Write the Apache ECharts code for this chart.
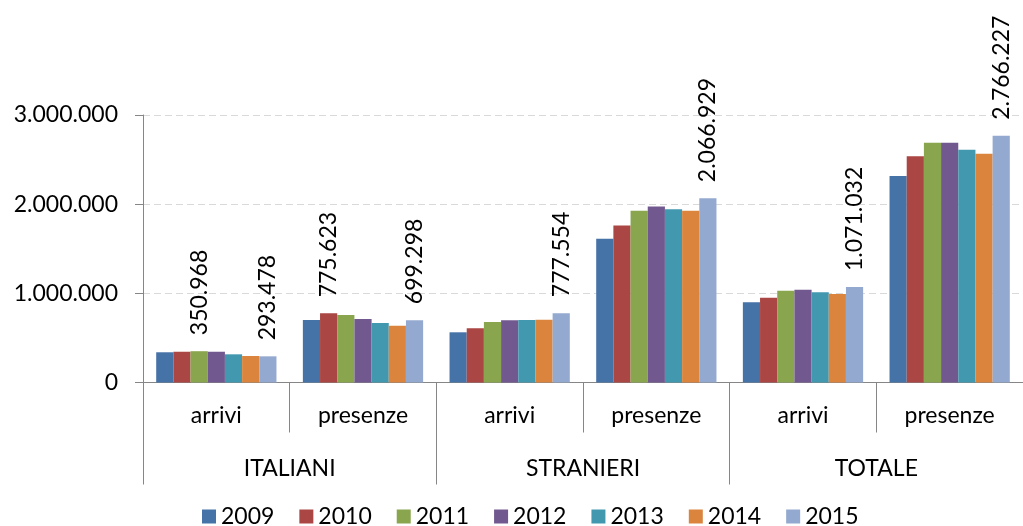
<!DOCTYPE html>
<html>
<head>
<meta charset="utf-8">
<script src="https://cdn.jsdelivr.net/npm/echarts@6/dist/echarts.min.js"></script>
<style>
  html, body { margin: 0; padding: 0; background: #fff; }
  #chart { width: 1023px; height: 526px; }
</style>
</head>
<body>
<div id="chart"></div>
<script>
// categorie dell'asse x (due livelli)
const sottoCategorie = ['arrivi', 'presenze', 'arrivi', 'presenze', 'arrivi', 'presenze'];
const gruppi = ['ITALIANI', 'STRANIERI', 'TOTALE'];
const anni = ['2009', '2010', '2011', '2012', '2013', '2014', '2015'];

// valori per anno, nello stesso ordine di sottoCategorie
const v2009 = [339000, 700000, 563000, 1612000, 899000, 2315000];
const v2010 = [345000, 775623, 608000, 1762000, 951000, 2536000];
const v2011 = [350968, 757000, 678000, 1926000, 1029000, 2688000];
const v2012 = [345000, 712000, 697000, 1975000, 1040000, 2688000];
const v2013 = [316000, 667000, 700000, 1942000, 1011000, 2610000];
const v2014 = [297000, 637000, 704000, 1926000, 992000, 2565000];
const v2015 = [293478, 699298, 777554, 2066929, 1071032, 2766227];
const valori = [v2009, v2010, v2011, v2012, v2013, v2014, v2015];

// etichette visibili: [indice anno, indice categoria]
const etichette = [[2, 0], [1, 1], [6, 0], [6, 1], [6, 2], [6, 3], [6, 4], [6, 5]];

// tick asse y
const yTicks = [0, 1000000, 2000000, 3000000];

const colori = ['#4572A7', '#AA4643', '#89A54E', '#71588F', '#4198AF', '#DB843D', '#93A9CF'];
const font = 'Lato, "Open Sans", sans-serif';

function formatta(v) {
  return String(v).replace(/\B(?=(\d{3})+(?!\d))/g, '.');
}

const chart = echarts.init(document.getElementById('chart'));

const series = anni.map((anno, s) => ({
  name: anno,
  type: 'bar',
  barGap: '0%',
  barCategoryGap: '18%',
  itemStyle: { color: colori[s] },
  data: valori[s].map((v, c) => {
    const conLabel = etichette.some(e => e[0] === s && e[1] === c);
    return {
      value: v,
      label: {
        show: conLabel,
        position: 'top',
        distance: 16,
        rotate: 90,
        align: 'left',
        verticalAlign: 'middle',
        fontFamily: font,
        fontSize: 23,
        color: '#000',
        formatter: p => formatta(p.value)
      }
    };
  })
}));

const option = {
  animation: false,
  color: colori,
  grid: { left: 143, top: 115, width: 884, height: 267.5 },
  legend: {
    data: anni,
    left: 197,
    top: 500,
    icon: 'rect',
    itemWidth: 14,
    itemHeight: 14,
    itemGap: 25,
    textStyle: { fontFamily: font, fontSize: 23, color: '#000' }
  },
  xAxis: [
    {
      type: 'category',
      data: sottoCategorie,
      axisLine: { show: true, lineStyle: { color: '#868686', width: 1 } },
      axisTick: { show: true, interval: 0, length: 50, lineStyle: { color: '#868686' } },
      axisLabel: { interval: 0, margin: 22, fontFamily: font, fontSize: 23, color: '#000' },
      splitLine: { show: false }
    },
    {
      type: 'category',
      data: gruppi,
      position: 'bottom',
      axisLine: { show: false },
      axisTick: { show: true, interval: 0, length: 102, lineStyle: { color: '#868686' } },
      axisLabel: { interval: 0, margin: 75, fontFamily: font, fontSize: 23, color: '#000' },
      splitLine: { show: false }
    }
  ],
  yAxis: {
    type: 'value',
    min: yTicks[0],
    max: yTicks[yTicks.length - 1],
    interval: 1000000,
    axisLine: { show: true, lineStyle: { color: '#868686' } },
    axisTick: { show: true, length: 8, lineStyle: { color: '#868686' } },
    axisLabel: { margin: 25, fontFamily: font, fontSize: 23, color: '#000', formatter: v => formatta(v) },
    splitLine: { show: true, lineStyle: { color: '#D9D9D9', type: [7, 4] } }
  },
  series: series
};

chart.setOption(option);
</script>
</body>
</html>
